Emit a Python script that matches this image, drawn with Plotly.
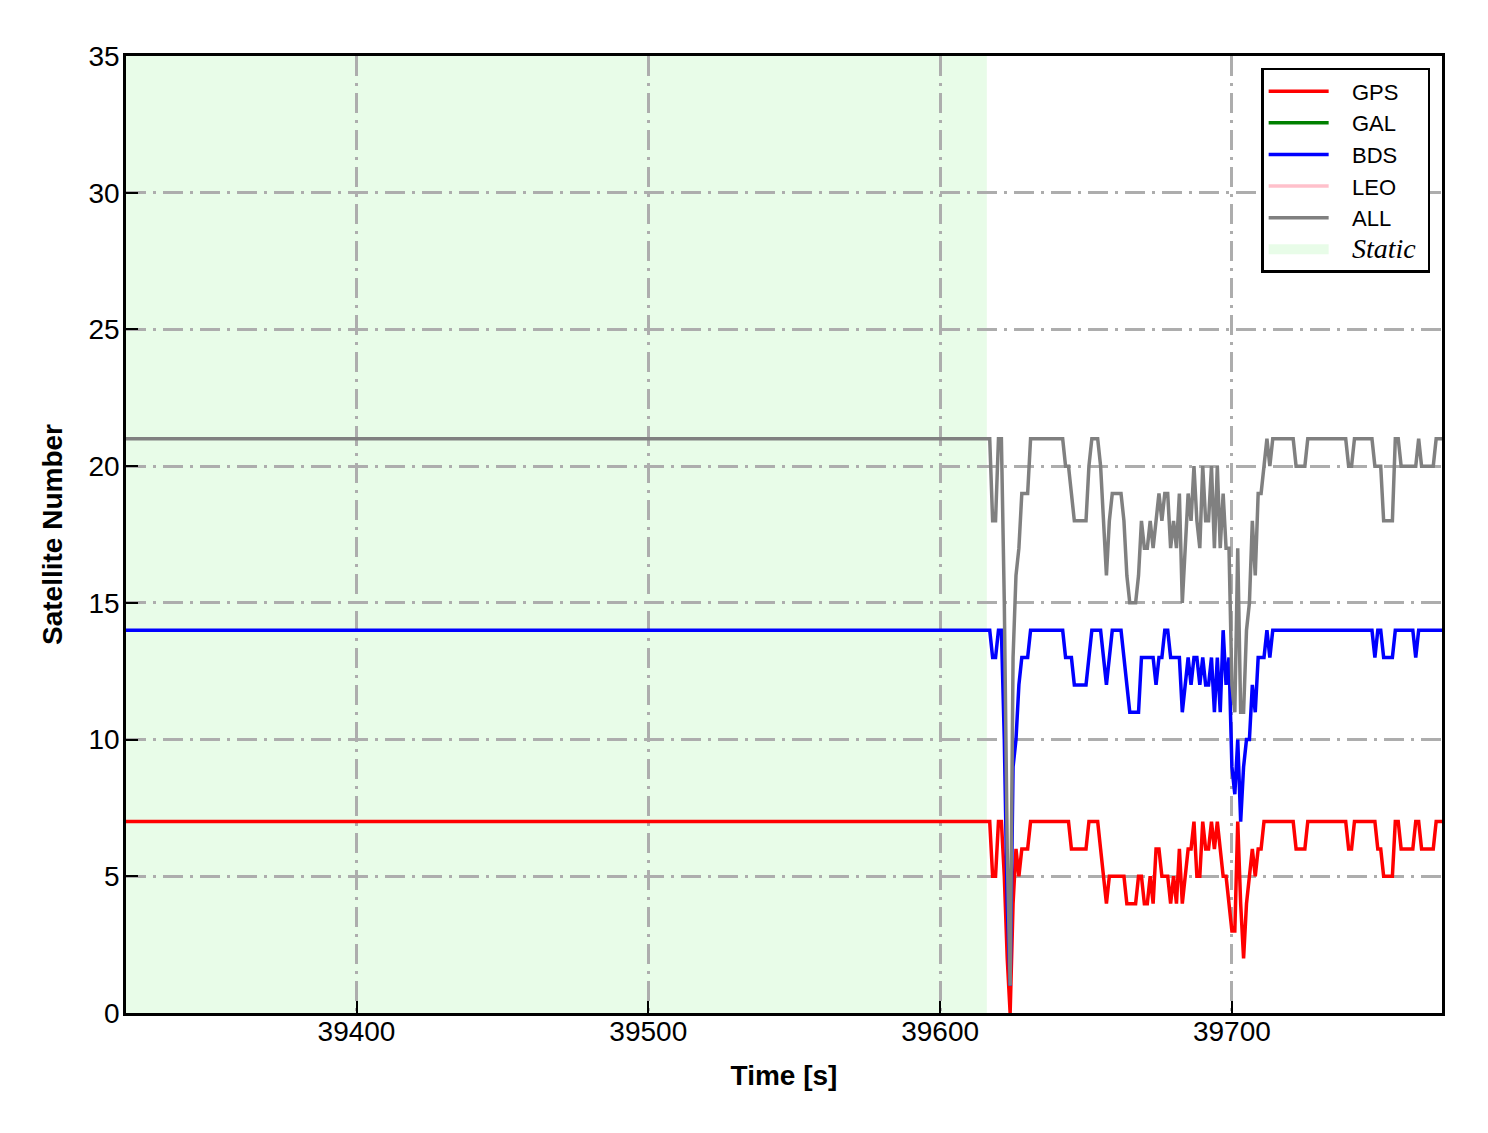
import plotly.graph_objects as go

# ---------------- data ----------------
STATIC_START = 39321
STATIC_END = 39616
X_RANGE = [39321, 39772]

# epochs: first point = start of the static period, then 1 Hz from 39616 to 39772
TIME = [39321] + list(range(39616, 39773))

GPS = [7,
       7, 7, 5, 5, 7, 7, 5, 2, 0, 4,
       6, 5, 6, 6, 6, 7, 7, 7, 7, 7,
       7, 7, 7, 7, 7, 7, 7, 7, 7, 6,
       6, 6, 6, 6, 6, 7, 7, 7, 7, 6,
       5, 4, 5, 5, 5, 5, 5, 5, 4, 4,
       4, 4, 5, 5, 4, 4, 5, 4, 6, 6,
       5, 5, 5, 4, 5, 4, 6, 4, 5, 6,
       6, 7, 5, 5, 7, 6, 6, 7, 6, 7,
       6, 5, 5, 4, 3, 3, 7, 4, 2, 4,
       5, 6, 5, 6, 6, 7, 7, 7, 7, 7,
       7, 7, 7, 7, 7, 7, 6, 6, 6, 6,
       7, 7, 7, 7, 7, 7, 7, 7, 7, 7,
       7, 7, 7, 7, 6, 6, 7, 7, 7, 7,
       7, 7, 7, 7, 6, 6, 5, 5, 5, 5,
       7, 7, 6, 6, 6, 6, 6, 7, 7, 6,
       6, 6, 6, 6, 7, 7, 7]

GAL = []

BDS = [14,
       14, 14, 13, 13, 14, 14, 10, 4, 1, 9,
       10, 12, 13, 13, 13, 14, 14, 14, 14, 14,
       14, 14, 14, 14, 14, 14, 14, 13, 13, 13,
       12, 12, 12, 12, 12, 13, 14, 14, 14, 14,
       13, 12, 13, 14, 14, 14, 14, 13, 12, 11,
       11, 11, 11, 13, 13, 13, 13, 13, 12, 13,
       13, 14, 14, 13, 13, 13, 13, 11, 12, 13,
       12, 13, 13, 12, 13, 12, 12, 13, 11, 13,
       11, 14, 12, 13, 9, 8, 10, 7, 9, 10,
       10, 12, 11, 13, 13, 13, 14, 13, 14, 14,
       14, 14, 14, 14, 14, 14, 14, 14, 14, 14,
       14, 14, 14, 14, 14, 14, 14, 14, 14, 14,
       14, 14, 14, 14, 14, 14, 14, 14, 14, 14,
       14, 14, 14, 13, 14, 14, 13, 13, 13, 13,
       14, 14, 14, 14, 14, 14, 14, 13, 14, 14,
       14, 14, 14, 14, 14, 14, 14]

LEO = []

ALL = [21,
       21, 21, 18, 18, 21, 21, 15, 6, 1, 13,
       16, 17, 19, 19, 19, 21, 21, 21, 21, 21,
       21, 21, 21, 21, 21, 21, 21, 20, 20, 19,
       18, 18, 18, 18, 18, 20, 21, 21, 21, 20,
       18, 16, 18, 19, 19, 19, 19, 18, 16, 15,
       15, 15, 16, 18, 17, 17, 18, 17, 18, 19,
       18, 19, 19, 17, 18, 17, 19, 15, 17, 19,
       18, 20, 18, 17, 20, 18, 18, 20, 17, 20,
       17, 19, 17, 17, 12, 11, 17, 11, 11, 14,
       15, 18, 16, 19, 19, 20, 21, 20, 21, 21,
       21, 21, 21, 21, 21, 21, 20, 20, 20, 20,
       21, 21, 21, 21, 21, 21, 21, 21, 21, 21,
       21, 21, 21, 21, 20, 20, 21, 21, 21, 21,
       21, 21, 21, 20, 20, 20, 18, 18, 18, 18,
       21, 21, 20, 20, 20, 20, 20, 20, 21, 20,
       20, 20, 20, 20, 21, 21, 21]

X_TICKS = [39400, 39500, 39600, 39700]
Y_TICKS = [0, 5, 10, 15, 20, 25, 30, 35]

# ---------------- figure ----------------
FONT = "Liberation Sans, Arial, sans-serif"
LW = 3.5
STATIC_COLOR = "#e8fce8"

fig = go.Figure()

series = [
    ("GPS", GPS, "#ff0000"),
    ("GAL", GAL, "#008000"),
    ("BDS", BDS, "#0000ff"),
    ("LEO", LEO, "#ffc0cb"),
    ("ALL", ALL, "#808080"),
]
PAD_L = "&nbsp;&nbsp;&nbsp;"
for name, vals, col in series:
    label = PAD_L + name
    if vals:
        fig.add_trace(go.Scatter(x=TIME[:len(vals)], y=vals, mode="lines", name=label,
                                 line=dict(color=col, width=LW)))
    else:
        fig.add_trace(go.Scatter(x=[None], y=[None], mode="lines", name=label,
                                 line=dict(color=col, width=LW)))

# legend entry for static period (thick pale line acts as the patch)
fig.add_trace(go.Scatter(x=[None], y=[None], mode="lines",
                         line=dict(width=16, color=STATIC_COLOR),
                         name=PAD_L + '<span style="font-family:Liberation Serif, Times New Roman, serif; font-size:28px"><i>Static</i></span>&nbsp;'))

# static shading (below gridlines)
fig.add_shape(type="rect", xref="x", yref="y", x0=STATIC_START, x1=STATIC_END,
              y0=0, y1=35, fillcolor=STATIC_COLOR, line=dict(width=0), layer="below")

axis_common = dict(
    showline=True, linecolor="black", linewidth=2.5, mirror=True,
    ticks="inside", ticklen=12, tickwidth=2, tickcolor="black",
    showgrid=True, gridcolor="#adadad", gridwidth=2.5, griddash="20px,7px,3px,7px",
    zeroline=False,
    tickfont=dict(family=FONT, size=28, color="black"),
)

fig.update_xaxes(range=X_RANGE, tickvals=X_TICKS, ticktext=[str(v) for v in X_TICKS],
                 ticklabelstandoff=-8,
                 title=dict(text="<b>Time [s]</b>", font=dict(family=FONT, size=28, color="black"),
                            standoff=20),
                 **axis_common)
fig.update_yaxes(range=[0, 35], tickvals=Y_TICKS,
                 ticklabelstandoff=-2,
                 title=dict(text="<b>Satellite Number</b>", font=dict(family=FONT, size=28, color="black"),
                            standoff=18),
                 **axis_common)

fig.update_layout(
    width=1472, height=1117,
    margin=dict(l=118, r=38, t=48, b=112),
    paper_bgcolor="white", plot_bgcolor="white",
    showlegend=True,
    legend=dict(x=0.991, y=0.9875, xanchor="right", yanchor="top",
                bgcolor="white", bordercolor="black", borderwidth=2.5,
                font=dict(family=FONT, size=22, color="black"),
                itemwidth=60, tracegroupgap=0),
    font=dict(family=FONT, color="black"),
)

fig.write_html("out.html")
